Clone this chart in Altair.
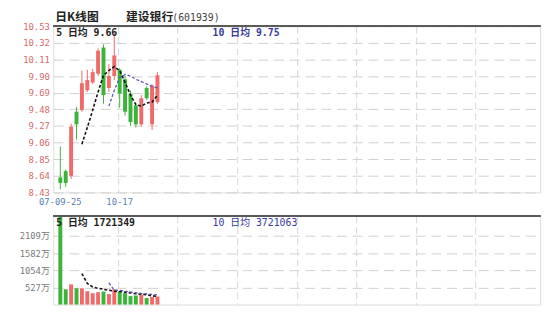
import altair as alt
import pandas as pd

# ---------------- data ----------------
dates = ["07-09-25", "09-26", "09-27", "09-28", "10-08", "10-09", "10-10",
         "10-11", "10-12", "10-15", "10-16", "10-17", "10-18", "10-19",
         "10-22", "10-23", "10-24", "10-25", "10-26"]
opens  = [8.62, 8.70, 8.64, 9.45, 9.47, 9.72, 9.82, 9.93, 10.26, 9.75,
          9.90, 9.98, 9.86, 9.68, 9.53, 9.29, 9.75, 9.29, 9.57]
highs  = [9.01, 8.72, 9.30, 9.51, 9.97, 9.98, 9.99, 10.25, 10.30, 10.05,
          10.45, 10.00, 9.90, 9.72, 9.56, 9.66, 9.77, 9.80, 9.95]
lows   = [8.47, 8.50, 8.60, 9.10, 9.45, 9.70, 9.80, 9.90, 9.55, 9.70,
          9.85, 9.50, 9.40, 9.27, 9.25, 9.26, 9.60, 9.22, 9.55]
closes = [8.55, 8.55, 9.26, 9.29, 9.81, 9.85, 9.95, 10.22, 9.66, 9.90,
          10.16, 9.68, 9.45, 9.32, 9.29, 9.62, 9.62, 9.78, 9.91]
ma5    = [None, None, None, None, 9.04, 9.25, 9.47, 9.70, 9.91, 9.97,
          10.02, 9.97, 9.82, 9.66, 9.54, 9.52, 9.56, 9.57, 9.66]
ma10   = [None, None, None, None, None, None, None, None, None, 9.52,
          9.72, 9.88, 9.92, 9.90, 9.86, 9.83, 9.80, 9.77, 9.75]
volumes = [2720, 470, 620, 500, 500, 410, 350, 380, 400, 320,
           470, 400, 350, 260, 280, 300, 200, 230, 250]          # 万
vma5   = [None, None, None, None, 950, 650, 540, 500, 470, 440,
          410, 400, 380, 360, 330, 320, 300, 270, 250]
vma10  = [None, None, None, None, None, None, None, None, None, 665,
          442, 435, 408, 384, 362, 342, 327, 312, 297]

price_ticks = [8.43, 8.64, 8.85, 9.06, 9.27, 9.48, 9.69, 9.90, 10.11, 10.32, 10.53]
vol_ticks = [527, 1054, 1582, 2109]
shown_dates = ["07-09-25", "10-17"]
title_parts = ["日K线图", "建设银行", "(601939)"]
vol_ma_text = ["5 日均 1721349", "10 日均 3721063"]

# ---------------- styles ----------------
RED = "#ef6a6a"
GREEN = "#3cb43c"
MONO = "DejaVu Sans Mono, Noto Sans CJK SC"
CJK = "Noto Sans CJK SC"
W = 495
H_PRICE = 169
H_VOL = 90
X_DOMAIN = [-0.4, 88.0]
xgrid = [X_DOMAIN[0] + k * (X_DOMAIN[1] - X_DOMAIN[0]) / 8 for k in range(1, 8)]

df = pd.DataFrame({
    "i": list(range(len(dates))), "date": dates,
    "open": opens, "high": highs, "low": lows, "close": closes,
    "ma5": ma5, "ma10": ma10,
    "vol": volumes, "vma5": vma5, "vma10": vma10,
})
ddf = pd.DataFrame({"i": [dates.index(d) for d in shown_dates], "label": shown_dates})


def label(text, x, y, font=MONO, size=10, weight="normal", color="#222222",
          baseline="top"):
    return alt.Chart(pd.DataFrame({"t": [text]})).mark_text(
        align="left", baseline=baseline, font=font, fontSize=size,
        fontWeight=weight, color=color).encode(
        x=alt.value(x), y=alt.value(y), text="t:N")


xscale = alt.Scale(domain=X_DOMAIN, nice=False, zero=False)
x_axis = alt.Axis(values=xgrid, labels=False, ticks=False, domain=False,
                  grid=True, gridDash=[7, 4], gridColor="#d6d6d6", title=None)
color_cond = alt.condition("datum.close >= datum.open", alt.value(RED), alt.value(GREEN))

# ---------------- price panel ----------------
pscale = alt.Scale(domain=[price_ticks[0], price_ticks[-1]], nice=False, zero=False)
p_axis = alt.Axis(values=price_ticks, format=".2f", labelColor="#d66a6a", labelFont=MONO,
                  labelFontSize=9, labelOverlap=False, ticks=False, domain=False,
                  grid=True, gridDash=[10, 6], gridColor="#d0d0d0", title=None,
                  minExtent=45, maxExtent=45, labelPadding=4)
base = alt.Chart(df)


def X():
    return alt.X("i:Q", scale=xscale, axis=x_axis)


def PY(field):
    return alt.Y(field, type="quantitative", scale=pscale, axis=p_axis)


wicks = base.mark_rule(strokeWidth=1).encode(
    x=X(), y=PY("low"), y2="high:Q", color=color_cond)
bodies = base.mark_bar(size=4).encode(
    x=X(), y=PY("open"), y2="close:Q", color=color_cond)
line5 = base.mark_line(color="#111111", strokeDash=[3, 2], strokeWidth=1.6).encode(
    x=X(), y=PY("ma5"))
line10 = base.mark_line(color="#5a55b8", strokeDash=[3, 2], strokeWidth=1.3).encode(
    x=X(), y=PY("ma10"))
top_rule = base.mark_rule(color="#5a5a5a", strokeWidth=1.5).encode(y=alt.value(0))

t_ma5 = label(f"5 日均 {ma5[-1]:.2f}", 3, 2, weight="bold")
t_ma10 = label(f"10 日均 {ma10[-1]:.2f}", 162, 2, weight="bold", color="#3a3aa0")
t_title1 = label(title_parts[0], 2, -2, font=CJK, size=12, weight="bold", baseline="bottom")
t_title2 = label(title_parts[1], 74, -2, font=CJK, size=12, weight="bold", baseline="bottom")
t_title3 = label(title_parts[2], 121, -3, size=10, color="#444444", baseline="bottom")
t_dates = alt.Chart(ddf).mark_text(baseline="top", font=MONO, fontSize=9,
                                   color="#5b7fb0").encode(
    x=X(), y=alt.value(H_PRICE + 6), text="label:N")

price = alt.layer(wicks, bodies, line5, line10, top_rule,
                  t_ma5, t_ma10, t_title1, t_title2, t_title3, t_dates
                  ).properties(width=W, height=H_PRICE)

# ---------------- volume panel ----------------
vscale = alt.Scale(domain=[0, 2720], nice=False)
v_axis = alt.Axis(values=vol_ticks, labelExpr="datum.value + '万'", labelColor="#7a7a7a",
                  labelFont=MONO, labelFontSize=9, labelOverlap=False, ticks=False,
                  domain=False, grid=True, gridDash=[10, 6], gridColor="#d0d0d0",
                  title=None, minExtent=45, maxExtent=45, labelPadding=4)


def VY(field):
    return alt.Y(field, type="quantitative", scale=vscale, axis=v_axis)


vbars = base.mark_bar(size=4).encode(x=X(), y=VY("vol"), color=color_cond)
vline5 = base.mark_line(color="#111111", strokeDash=[3, 2], strokeWidth=1.6).encode(
    x=X(), y=VY("vma5"))
vline10 = base.mark_line(color="#5a55b8", strokeDash=[3, 2], strokeWidth=1.3).encode(
    x=X(), y=VY("vma10"))
vtop = base.mark_rule(color="#5a5a5a", strokeWidth=1.5).encode(y=alt.value(0))
vt5 = label(vol_ma_text[0], 3, 2, weight="bold")
vt10 = label(vol_ma_text[1], 162, 2, color="#3a3aa0")

volume = alt.layer(vbars, vline5, vline10, vtop, vt5, vt10
                   ).properties(width=W, height=H_VOL)

chart = alt.vconcat(price, volume, spacing=6).properties(
    padding={"left": 0, "top": 0, "right": 5, "bottom": 2}
).configure_view(stroke="#a8a8a8").configure(background="white")

chart.save("out.html", embed_options={"renderer": "svg", "actions": False})
